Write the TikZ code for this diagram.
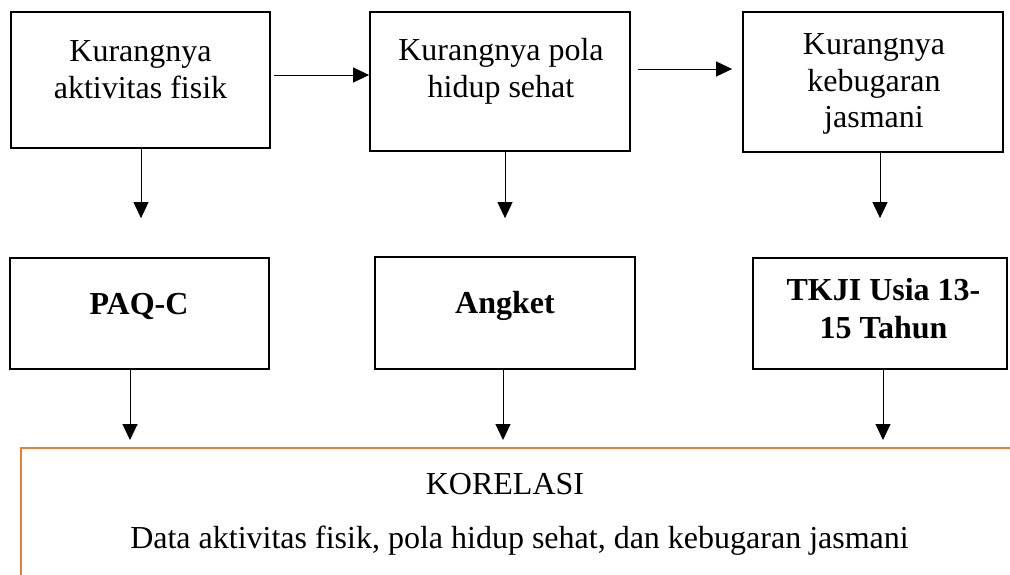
\documentclass[tikz,border=0pt]{standalone}
\usepackage{fontspec}
\setmainfont{Liberation Serif}
\usetikzlibrary{arrows.meta}
\definecolor{korange}{RGB}{237,125,49}
\begin{document}
\begin{tikzpicture}[x=1pt,y=-1pt,
  box/.style={draw,line width=1.8pt,inner sep=0pt},
  txt/.style={font=\fontsize{32}{36.5}\selectfont,align=center,inner sep=0pt},
  btxt/.style={font=\fontsize{32}{38}\selectfont\bfseries,align=center,inner sep=0pt},
  arr/.style={line width=1pt,-{Triangle[length=16pt,width=15pt]}}]
\useasboundingbox (0,0) rectangle (1010,574);
\clip (0,0) rectangle (1010,574);
% top row
\node[box,minimum width=259pt,minimum height=136pt] (b1) at (140.5,80) {};
\node[box,minimum width=260pt,minimum height=139pt] (b2) at (500,81.5) {};
\node[box,minimum width=260pt,minimum height=140pt] (b3) at (873,82) {};
\node[txt,anchor=north] (t1) at (140.5,40.8) {Kurangnya\\aktivitas fisik};
\node[txt,anchor=north] (t2) at (501,38.1) {Kurangnya pola\\hidup sehat};
\node[txt,anchor=north] (t3) at (874,33.8) {Kurangnya\\kebugaran\\jasmani};
% second row
\node[box,minimum width=259pt,minimum height=111pt] (c1) at (139.5,313.5) {};
\node[box,minimum width=260pt,minimum height=112pt] (c2) at (505,313) {};
\node[box,minimum width=254pt,minimum height=111pt] (c3) at (880,313.5) {};
\node[btxt,anchor=base] (s1) at (139,314) {PAQ-C};
\node[btxt,anchor=base] (s2) at (505,313) {Angket};
\node[btxt,anchor=north] (s3) at (883.5,278.4) {TKJI Usia 13-\\15 Tahun};
% bottom box
\node[draw=korange,line width=2pt,minimum width=1024pt,minimum height=192pt,inner sep=0pt] (kor) at (533,544) {};
\node[txt,anchor=base] (k1) at (505,494) {KORELASI};
\node[txt,anchor=base] (k2) at (519.5,548) {Data aktivitas fisik, pola hidup sehat, dan kebugaran jasmani};
% connectors
\coordinate (h1) at (0,75);
\coordinate (h2) at (0,69);
\draw[arr,shorten <=3pt] (b1.east |- h1) -- (b2.west |- h1);
\draw[arr,shorten <=7pt,shorten >=10pt] (b2.east |- h2) -- (b3.west |- h2);
\coordinate (v1) at (141,0);
\coordinate (v2) at (505,0);
\coordinate (v3) at (880,0);
\draw[arr,shorten >=39pt] (b1.south -| v1) -- (c1.north -| v1);
\draw[arr,shorten >=38pt] (b2.south -| v2) -- (c2.north -| v2);
\draw[arr,shorten >=39pt] (b3.south -| v3) -- (c3.north -| v3);
\coordinate (w1) at (130,0);
\coordinate (w2) at (503,0);
\coordinate (w3) at (883,0);
\draw[arr,shorten >=7pt] (c1.south -| w1) -- (kor.north -| w1);
\draw[arr,shorten >=7pt] (c2.south -| w2) -- (kor.north -| w2);
\draw[arr,shorten >=7pt] (c3.south -| w3) -- (kor.north -| w3);
\end{tikzpicture}
\end{document}
